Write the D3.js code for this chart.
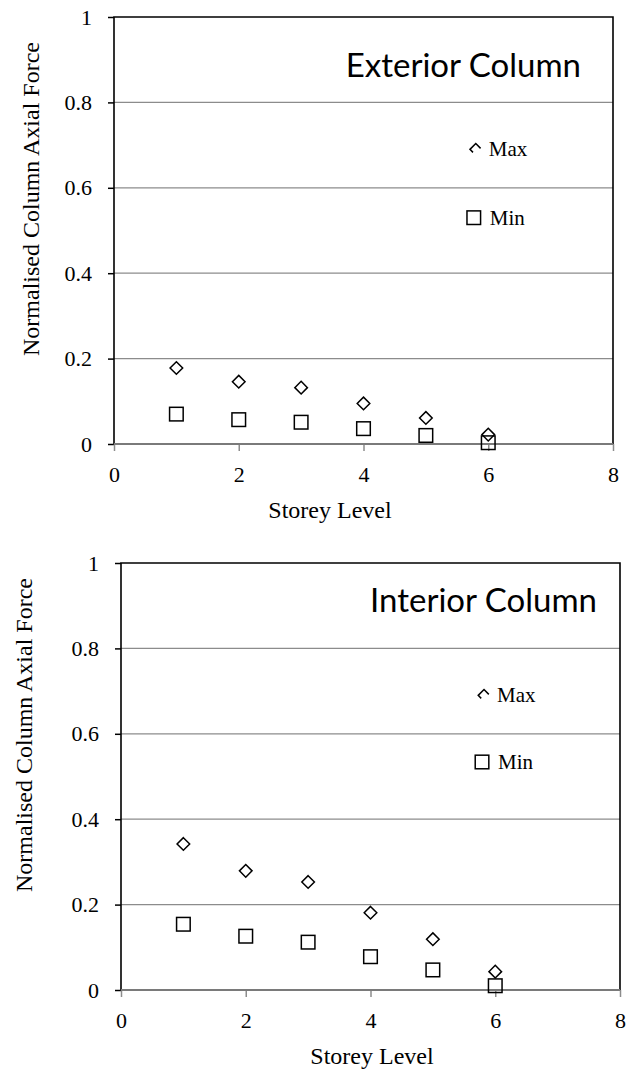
<!DOCTYPE html>
<html>
<head>
<meta charset="utf-8">
<script src="https://cdn.jsdelivr.net/npm/d3@7"></script>
<style>
  html, body { margin: 0; padding: 0; background: #fff; }
  svg { display: block; }
  .tick text { font-family: 'Liberation Serif', 'Times New Roman', serif; }
</style>
</head>
<body>
<svg id="chart" width="636" height="1070"></svg>
<script>
// ---- data ----
const storeys = [1, 2, 3, 4, 5, 6];
const exteriorMax = [0.178, 0.146, 0.132, 0.095, 0.061, 0.022];
const exteriorMin = [0.070, 0.057, 0.051, 0.036, 0.020, 0.003];
const interiorMax = [0.342, 0.279, 0.253, 0.181, 0.119, 0.043];
const interiorMin = [0.154, 0.126, 0.112, 0.078, 0.047, 0.010];
const xTicks = [0, 2, 4, 6, 8];
const yTicks = [0, 0.2, 0.4, 0.6, 0.8, 1];
const titles = ["Exterior Column", "Interior Column"];
const xAxisTitle = "Storey Level";
const yAxisTitle = "Normalised Column Axial Force";
const legendLabels = ["Max", "Min"];

const svg = d3.select("#chart");
const serif = "'Liberation Serif', 'Times New Roman', serif";
const sans = "Lato, 'Open Sans', sans-serif";

const panels = [
  { left: 114, right: 613, top: 17, bottom: 444, title: titles[0], max: exteriorMax, min: exteriorMin,
    titleX: 581, titleY: 77, xTitleX: 330, yTitleX: 31, yTitleY: 199,
    legDx: 5.8, legMaxY: 0.69, legMinY: 0.53 },
  { left: 121, right: 620, top: 563, bottom: 990, title: titles[1], max: interiorMax, min: interiorMin,
    titleX: 597, titleY: 612, xTitleX: 372, yTitleX: 24, yTitleY: 735,
    legDx: 5.82, legMaxY: 0.69, legMinY: 0.534 }
];

panels.forEach(p => {
  const x = d3.scaleLinear().domain([0, 8]).range([p.left, p.right]);
  const y = d3.scaleLinear().domain([0, 1]).range([p.bottom, p.top]);
  const g = svg.append("g");

  // gridlines
  g.selectAll("line.grid").data(yTicks.filter(t => t > 0 && t < 1)).join("line")
    .attr("x1", p.left).attr("x2", p.right)
    .attr("y1", d => y(d)).attr("y2", d => y(d))
    .attr("stroke", "#8c8c8c").attr("stroke-width", 1.2);

  // y axis
  const ya = g.append("g").attr("transform", `translate(${p.left},0)`)
    .call(d3.axisLeft(y).tickValues(yTicks).tickFormat(d => d === 0 ? "0" : d === 1 ? "1" : d3.format(".1f")(d))
      .tickSize(6).tickPadding(16));
  ya.attr("font-family", serif).attr("font-size", 22);
  ya.select(".domain").remove();
  ya.selectAll(".tick line").attr("stroke", "#000").attr("stroke-width", 1.5);
  ya.selectAll(".tick text").style("font-family", serif).style("font-size", "22px").attr("fill", "#000");

  // x axis
  const xa = g.append("g").attr("transform", `translate(0,${p.bottom})`)
    .call(d3.axisBottom(x).tickValues(xTicks).tickFormat(d3.format("d")).tickSize(7).tickPadding(15));
  xa.attr("font-family", serif).attr("font-size", 22);
  xa.select(".domain").remove();
  xa.selectAll(".tick line").attr("stroke", "#8c8c8c").attr("stroke-width", 1.5);
  xa.selectAll(".tick text").style("font-family", serif).style("font-size", "22px").attr("fill", "#000");

  // frame: black left, top, right
  g.append("path")
    .attr("d", `M${p.left},${p.bottom}V${p.top}H${p.right}V${p.bottom}`)
    .attr("fill", "none").attr("stroke", "#000").attr("stroke-width", 1.6);
  // x-axis line (gray)
  g.append("line").attr("x1", p.left).attr("x2", p.right).attr("y1", y(0)).attr("y2", y(0))
    .attr("stroke", "#7a7a7a").attr("stroke-width", 1.8);

  // chart title
  g.append("text").attr("x", p.titleX).attr("y", p.titleY).attr("text-anchor", "end")
    .attr("font-family", sans).attr("font-size", 33).attr("fill", "#000").text(p.title);

  // markers
  const dH = 6.3, sH = 6.8;
  const diamond = (cx, cy) => `M${cx},${cy - dH}L${cx + dH},${cy}L${cx},${cy + dH}L${cx - dH},${cy}Z`;
  g.selectAll("path.max").data(storeys).join("path")
    .attr("d", (d, i) => diamond(x(d), y(p.max[i])))
    .attr("fill", "#fff").attr("stroke", "#000").attr("stroke-width", 1.5);
  g.selectAll("rect.min").data(storeys).join("rect")
    .attr("x", (d) => x(d) - sH).attr("y", (d, i) => y(p.min[i]) - sH)
    .attr("width", 2 * sH).attr("height", 2 * sH)
    .attr("fill", "none").attr("stroke", "#000").attr("stroke-width", 1.5);

  // legend (max marker is partially hidden, as in the original)
  const lx = x(p.legDx), lyMax = y(p.legMaxY), lyMin = y(p.legMinY);
  const h = 5.8;
  g.append("path")
    .attr("d", `M${lx - h + 3},${lyMax + 3}L${lx - h},${lyMax}L${lx},${lyMax - h}L${lx + h - 1},${lyMax - 1}`)
    .attr("fill", "none").attr("stroke", "#000").attr("stroke-width", 1.5);
  g.append("text").attr("x", lx + 13).attr("y", lyMax + 7)
    .attr("font-family", serif).attr("font-size", 21).attr("fill", "#000").text(legendLabels[0]);
  g.append("rect").attr("x", lx - 2 - sH).attr("y", lyMin - sH).attr("width", 2 * sH).attr("height", 2 * sH)
    .attr("fill", "none").attr("stroke", "#000").attr("stroke-width", 1.5);
  g.append("text").attr("x", lx + 14).attr("y", lyMin + 7)
    .attr("font-family", serif).attr("font-size", 21).attr("fill", "#000").text(legendLabels[1]);

  // axis titles
  g.append("text").attr("x", p.xTitleX).attr("y", p.bottom + 74).attr("text-anchor", "middle")
    .attr("font-family", serif).attr("font-size", 24).attr("fill", "#000").text(xAxisTitle);
  g.append("text").attr("transform", `translate(${p.yTitleX + 8},${p.yTitleY}) rotate(-90)`)
    .attr("text-anchor", "middle")
    .attr("font-family", serif).attr("font-size", 24).attr("fill", "#000").text(yAxisTitle);
});
</script>
</body>
</html>
